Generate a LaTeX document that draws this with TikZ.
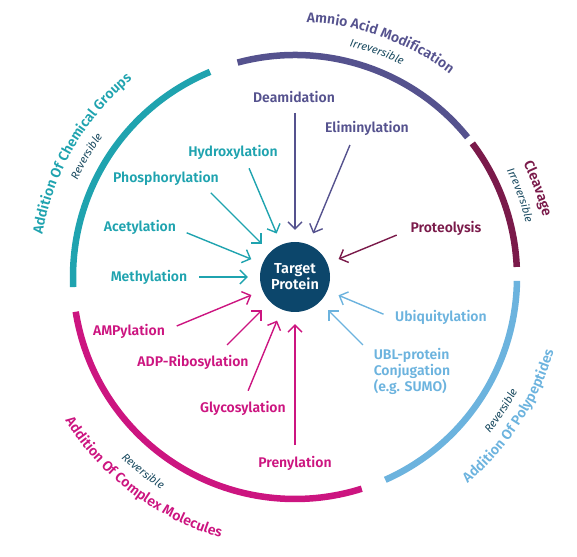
\documentclass[tikz,border=0pt]{standalone}
\usepackage{fontspec}
\setmainfont{Fira Sans}[BoldFont={Fira Sans SemiBold}]
\usetikzlibrary{arrows.meta,decorations.text}

\definecolor{chemteal}{HTML}{1FA3AF}
\definecolor{aminopurple}{HTML}{55528E}
\definecolor{cleavmaroon}{HTML}{7A1A4A}
\definecolor{polyblue}{HTML}{6CB3DE}
\definecolor{complexpink}{HTML}{CC1580}
\definecolor{targetnavy}{HTML}{0C466B}
\definecolor{subnavy}{HTML}{18495F}

\newcommand\ringtitlefont{\fontsize{14}{14}\selectfont\bfseries}
\newcommand\ringsubfont{\fontsize{11}{11}\selectfont\itshape}

\tikzset{
	ring/.style={line width=6.5pt},
	lbl/.style={font=\fontsize{14}{16}\selectfont\bfseries, inner sep=1pt},
	arr/.style={line width=1.4pt, -{Straight Barb[length=7pt,width=14pt]}, shorten >=12pt},
	ringtitle/.style 2 args={decorate, decoration={text along path, text align=center,
		text color=#1, text={|\ringtitlefont|#2}}},
	ringsub/.style={decorate, decoration={text along path, text align=center,
		text color=subnavy, text={|\ringsubfont|#1}}}
}

\begin{document}
\begin{tikzpicture}[x=1pt,y=1pt]
\useasboundingbox (-295,-279) rectangle (282,277);

% outer ring
\draw[ring,chemteal] (112.5:222pt) arc[start angle=112.5,end angle=182.6,radius=222pt];
\draw[ring,aminopurple] (39:222pt) arc[start angle=39,end angle=105,radius=222pt];
\draw[ring,cleavmaroon] (2.6:222pt) arc[start angle=2.6,end angle=37,radius=222pt];
\draw[ring,polyblue] (-66:222pt) arc[start angle=-66,end angle=-1,radius=222pt];
\draw[ring,complexpink] (189:222pt) arc[start angle=189,end angle=287.5,radius=222pt];

% ring titles, clockwise on top
\path[ringtitle={chemteal}{Addition Of Chemical Groups}]
	(190:256pt) arc[start angle=190,end angle=110,radius=256pt];
\path[ringsub={Reversible}]
	(190:238pt) arc[start angle=190,end angle=110,radius=238pt];
\path[ringtitle={aminopurple}{Amnio Acid Modification}]
	(110:255pt) arc[start angle=110,end angle=30,radius=255pt];
\path[ringsub={Irreversible}]
	(110:237pt) arc[start angle=110,end angle=30,radius=237pt];
\path[ringtitle={cleavmaroon}{Cleavage}]
	(60:255pt) arc[start angle=60,end angle=-20,radius=255pt];
\path[ringsub={Irreversible}]
	(60:237pt) arc[start angle=60,end angle=-20,radius=237pt];

% ring titles, anticlockwise at the bottom
\path[ringtitle={polyblue}{Addition Of Polypeptides}]
	(-73:269pt) arc[start angle=-73,end angle=7,radius=269pt];
\path[ringsub={Reversible}]
	(-73:250pt) arc[start angle=-73,end angle=7,radius=250pt];
\path[ringtitle={complexpink}{Addition Of Complex Molecules}]
	(193:271pt) arc[start angle=193,end angle=273,radius=271pt];
\path[ringsub={Reversible}]
	(192:251pt) arc[start angle=192,end angle=272,radius=251pt];

% centre
\node[circle, fill=targetnavy, minimum size=70pt, inner sep=0pt, text=white, align=center,
	font=\fontsize{14.5}{16}\selectfont\bfseries] (target) at (0,0) {Target\\Protein};

% modifications
\node[lbl,chemteal] (hydro) at (-62,125) {Hydroxylation};
\node[lbl,chemteal] (phospho) at (-129,99) {Phosphorylation};
\node[lbl,chemteal] (acetyl) at (-155,50) {Acetylation};
\node[lbl,chemteal] (methyl) at (-146,0) {Methylation};
\node[lbl,aminopurple] (deamid) at (-1,180) {Deamidation};
\node[lbl,aminopurple] (elimin) at (72,149) {Eliminylation};
\node[lbl,cleavmaroon] (proteo) at (151,49) {Proteolysis};
\node[lbl,polyblue] (ubiq) at (146,-40) {Ubiquitylation};
\node[lbl,polyblue,align=left] (ubl) at (117,-94) {UBL-protein\\Conjugation\\(e.g. SUMO)};
\node[lbl,complexpink] (ampyl) at (-166,-54) {AMPylation};
\node[lbl,complexpink] (adpribo) at (-102,-85) {ADP-Ribosylation};
\node[lbl,complexpink] (glyco) at (-52,-131) {Glycosylation};
\node[lbl,complexpink] (prenyl) at (0,-186) {Prenylation};

% arrow tails
\coordinate (hydro-tail) at (112.9:118pt);
\coordinate (phospho-tail) at (135:119pt);
\coordinate (acetyl-tail) at (157.8:117pt);
\coordinate (methyl-tail) at (180:96pt);
\coordinate (deamid-tail) at (90:164pt);
\coordinate (elimin-tail) at (67.4:143pt);
\coordinate (proteo-tail) at (22.4:110pt);
\coordinate (ubiq-tail) at (-22.8:96pt);
\coordinate (ubl-tail) at (-45:96pt);
\coordinate (ampyl-tail) at (202.5:128pt);
\coordinate (adpribo-tail) at (225:96pt);
\coordinate (glyco-tail) at (247.6:123pt);
\coordinate (prenyl-tail) at (270:168pt);

\foreach \m/\c in {hydro/chemteal,phospho/chemteal,acetyl/chemteal,methyl/chemteal,
	deamid/aminopurple,elimin/aminopurple,proteo/cleavmaroon,ubiq/polyblue,ubl/polyblue,
	ampyl/complexpink,adpribo/complexpink,glyco/complexpink,prenyl/complexpink}
	\draw[arr,\c] (\m-tail) -- (target);
\end{tikzpicture}
\end{document}
